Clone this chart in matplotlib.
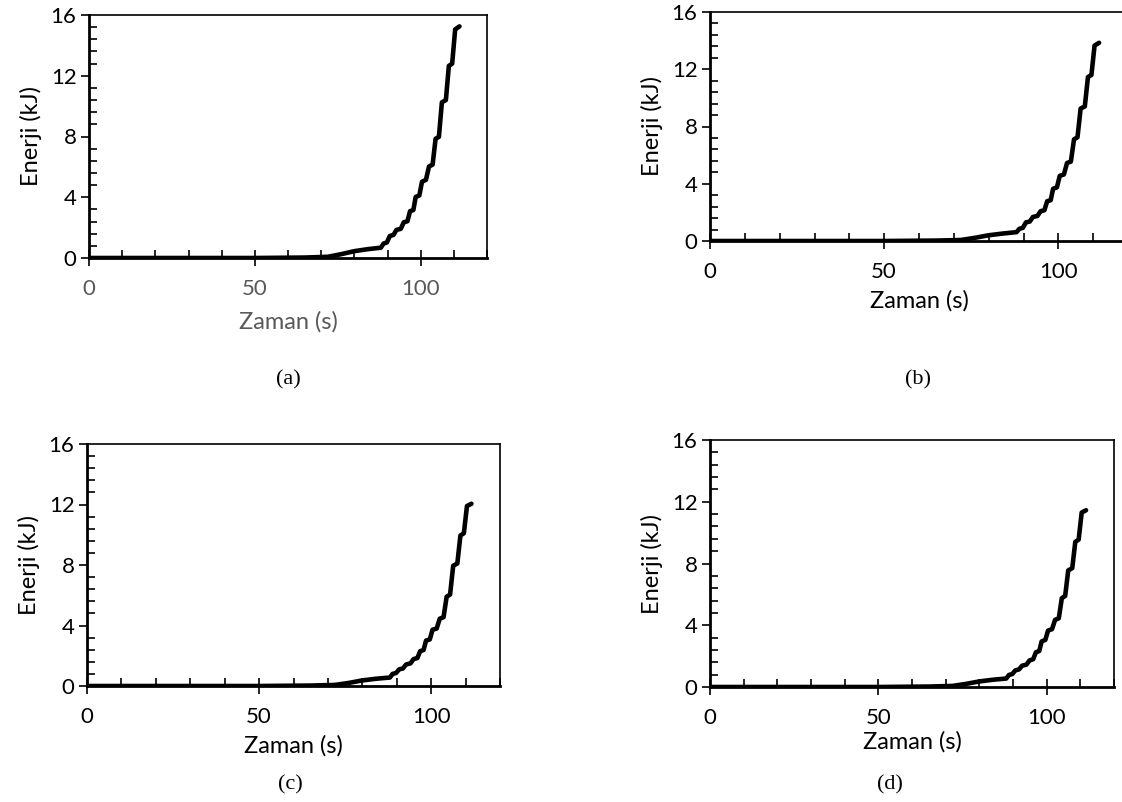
import numpy as np
import matplotlib
matplotlib.use("Agg")
import matplotlib.pyplot as plt
from matplotlib.ticker import MultipleLocator

# shared time grid (s)
zaman = [0, 50, 65, 72, 76, 80, 84, 88,
         88.8, 89.8, 90.7, 91.8, 92.7, 94.0, 94.9, 96.0, 96.8, 97.8, 98.5, 99.6,
         100.4, 101.6, 102.5, 103.6, 104.5, 105.5, 106.4, 107.6, 108.5, 109.5, 110.4, 111.7]

# energy (kJ) for each case
enerji_a = [0, 0, 0.03, 0.08, 0.25, 0.45, 0.58, 0.68,
            0.95, 1.02, 1.45, 1.52, 1.85, 1.92, 2.35, 2.42, 3.08, 3.16, 4.02, 4.12,
            5.02, 5.15, 6.02, 6.15, 7.85, 7.98, 10.25, 10.4, 12.65, 12.8, 15.05, 15.25]
enerji_b = [0, 0, 0.03, 0.07, 0.22, 0.4, 0.52, 0.62,
            0.85, 0.92, 1.3, 1.36, 1.68, 1.75, 2.08, 2.15, 2.78, 2.85, 3.65, 3.75,
            4.55, 4.65, 5.45, 5.55, 7.1, 7.25, 9.25, 9.4, 11.45, 11.6, 13.65, 13.85]
enerji_c = [0, 0, 0.03, 0.07, 0.2, 0.37, 0.48, 0.56,
            0.8, 0.86, 1.1, 1.16, 1.42, 1.5, 1.78, 1.85, 2.3, 2.38, 3.0, 3.08,
            3.72, 3.8, 4.45, 4.55, 5.9, 6.05, 7.95, 8.1, 9.95, 10.1, 11.9, 12.05]
enerji_d = [0, 0, 0.03, 0.07, 0.2, 0.36, 0.47, 0.55,
            0.78, 0.84, 1.08, 1.14, 1.38, 1.45, 1.72, 1.8, 2.25, 2.33, 2.95, 3.05,
            3.65, 3.75, 4.35, 4.45, 5.75, 5.9, 7.55, 7.7, 9.4, 9.55, 11.3, 11.45]

etiketler = ["(a)", "(b)", "(c)", "(d)"]
x_ticks = [0, 50, 100]
y_ticks = [0, 4, 8, 12, 16]

W, H = 1122, 802
fig = plt.figure(figsize=(W / 100, H / 100), dpi=100)
plt.rcParams['font.family'] = ['Lato', 'DejaVu Sans']


def px_axes(left, right, top, bottom):
    # pixel box -> figure fraction
    return fig.add_axes([left / W, 1 - bottom / H, (right - left) / W, (bottom - top) / H])


# (left, right, top, bottom) in pixels, caption position, xlabel pad
kutular = [
    ((89, 487, 15, 258), (288, 380), 9),
    ((710, 1128, 12, 241), (918, 380), 6),
    ((87, 500, 444, 686), (290, 785), 6),
    ((710, 1114, 440, 687), (890, 785), 2),
]
seriler = [enerji_a, enerji_b, enerji_c, enerji_d]

for i, ((box, cap, xpad), enerji) in enumerate(zip(kutular, seriler)):
    ax = px_axes(*box)
    ax.plot(zaman, enerji, color='black', lw=3.3, solid_capstyle='round')
    ax.set_xlim(0, 120)
    ax.set_ylim(0, 16)
    ax.set_xticks(x_ticks)
    ax.set_yticks(y_ticks)
    ax.xaxis.set_minor_locator(MultipleLocator(10))
    ax.yaxis.set_minor_locator(MultipleLocator(0.8))
    ax.tick_params(axis='x', which='major', direction='inout', length=12, width=1.2, pad=9)
    ax.tick_params(axis='x', which='minor', direction='in', length=6, width=1.2)
    ax.tick_params(axis='y', which='major', direction='out', length=6, width=1.2, pad=3)
    ax.tick_params(axis='y', which='minor', direction='in', length=6, width=1.2)
    ax.tick_params(labelsize=16)
    for s in ax.spines.values():
        s.set_linewidth(1.2)
    ax.spines['left'].set_linewidth(2.0)
    ax.spines['bottom'].set_linewidth(2.0)
    ax.set_ylabel("Enerji (kJ)", fontsize=17, labelpad=6)
    ax.set_xlabel("Zaman (s)", fontsize=17, labelpad=xpad)
    if i == 0:
        ax.tick_params(axis='x', labelcolor='#595959')
        ax.xaxis.label.set_color('#595959')
    fig.text(cap[0] / W, 1 - cap[1] / H, etiketler[i], ha='center', va='center',
             fontsize=16, family='Liberation Serif')

fig.savefig("out.png", dpi=100)
